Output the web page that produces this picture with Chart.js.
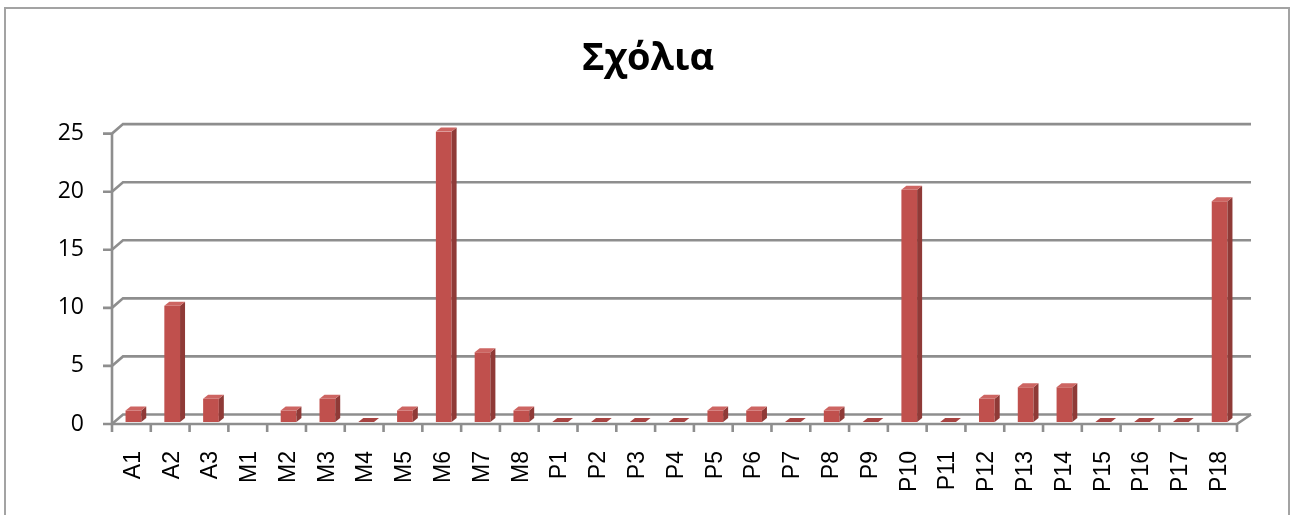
<!DOCTYPE html>
<html>
<head>
<meta charset="utf-8">
<script src="https://cdn.jsdelivr.net/npm/chart.js@4/dist/chart.umd.min.js"></script>
<style>
  html, body { margin: 0; padding: 0; background: #ffffff; }
  canvas { display: block; }
</style>
</head>
<body>
<canvas id="chart" width="1296" height="515"></canvas>
<script>
// Categories and comment counts
const categories = ['A1','A2','A3','M1','M2','M3','M4','M5','M6','M7','M8',
  'P1','P2','P3','P4','P5','P6','P7','P8','P9','P10','P11','P12','P13','P14',
  'P15','P16','P17','P18'];
const comments = [1, 10, 2, null, 1, 2, 0, 1, 25, 6, 1,
  0, 0, 0, 0, 1, 1, 0, 1, 0, 20, 0, 2, 3, 3,
  0, 0, 0, 19];
const yTickValues = [0, 5, 10, 15, 20, 25];
const titleText = 'Σχόλια';

// Pseudo-3D styling
const GRID = '#8e8e8e';
const FRONT = '#c0504d';
const SIDE = '#8f3a37';
const TOP = '#cd6562';
const BAR_DEPTH = { dx: 5, dy: 4 };
const WALL = { dxLeft: 9, dxRight: 12, dy: -7.5 };
const FRONT_AXIS = { dx: -2, dy: 2 };

const frame3d = {
  id: 'frame3d',
  beforeDraw(chart) {
    const ctx = chart.ctx;
    ctx.save();
    ctx.fillStyle = '#ffffff';
    ctx.fillRect(0, 0, chart.width, chart.height);
    // outer chart border
    ctx.strokeStyle = '#a3a3a3';
    ctx.lineWidth = 2;
    ctx.strokeRect(5, 8, 1284, 520);
    ctx.restore();
  },
  beforeDatasetsDraw(chart) {
    const ctx = chart.ctx;
    const y = chart.scales.y;
    const L = chart.chartArea.left, R = chart.chartArea.right;
    ctx.save();
    ctx.strokeStyle = GRID;
    ctx.lineWidth = 2.6;
    ctx.lineCap = 'butt';
    const fxL = L + FRONT_AXIS.dx, fxR = R + FRONT_AXIS.dx;
    const bxL = L + WALL.dxLeft, bxR = R + WALL.dxRight;
    // back wall gridlines and their diagonal links to the front axis
    yTickValues.forEach(v => {
      const py = y.getPixelForValue(v);
      const fy = py + FRONT_AXIS.dy, by = py + WALL.dy;
      ctx.beginPath();
      ctx.moveTo(fxL - 9, fy);
      ctx.lineTo(fxL, fy);
      ctx.lineTo(bxL, by);
      ctx.lineTo(bxR, by);
      ctx.stroke();
    });
    // front vertical value axis
    const f0 = y.getPixelForValue(0) + FRONT_AXIS.dy;
    const fTop = y.getPixelForValue(25) + FRONT_AXIS.dy;
    ctx.beginPath();
    ctx.moveTo(fxL, fTop);
    ctx.lineTo(fxL, f0 + 8);
    ctx.stroke();
    // front category axis with boundary ticks
    ctx.beginPath();
    ctx.moveTo(fxL, f0);
    ctx.lineTo(fxR, f0);
    ctx.lineTo(bxR, y.getPixelForValue(0) + WALL.dy);
    ctx.stroke();
    const step = (R - L) / categories.length;
    for (let i = 1; i <= categories.length; i++) {
      const tx = fxL + i * step;
      ctx.beginPath();
      ctx.moveTo(tx, f0);
      ctx.lineTo(tx, f0 + 8);
      ctx.stroke();
    }
    ctx.restore();
  },
  afterDatasetsDraw(chart) {
    const ctx = chart.ctx;
    const meta = chart.getDatasetMeta(0);
    const { dx, dy } = BAR_DEPTH;
    ctx.save();
    meta.data.forEach((bar, i) => {
      if (comments[i] === null || comments[i] === undefined) return;
      const p = bar.getProps(['x', 'y', 'base', 'width'], true);
      const x0 = p.x - p.width / 2, x1 = p.x + p.width / 2;
      const top = Math.min(p.y, p.base), bot = Math.max(p.y, p.base);
      // right side face
      if (bot - top > 0.5) {
        ctx.fillStyle = SIDE;
        ctx.beginPath();
        ctx.moveTo(x1, top);
        ctx.lineTo(x1 + dx, top - dy);
        ctx.lineTo(x1 + dx, bot - dy);
        ctx.lineTo(x1, bot);
        ctx.closePath();
        ctx.fill();
      }
      // top face
      ctx.fillStyle = (bot - top > 0.5) ? TOP : '#a84442';
      ctx.beginPath();
      ctx.moveTo(x0, top);
      ctx.lineTo(x1, top);
      ctx.lineTo(x1 + dx, top - dy);
      ctx.lineTo(x0 + dx, top - dy);
      ctx.closePath();
      ctx.fill();
    });
    ctx.restore();
  }
};

const TITLE_FONT = "'Open Sans', 'DejaVu Sans', sans-serif";
const LABEL_FONT = "'Liberation Sans', Arial, sans-serif";

new Chart(document.getElementById('chart'), {
  type: 'bar',
  data: {
    labels: categories,
    datasets: [{
      label: titleText,
      data: comments,
      backgroundColor: FRONT,
      borderWidth: 0,
      categoryPercentage: 1.0,
      barPercentage: 0.405
    }]
  },
  options: {
    responsive: false,
    devicePixelRatio: 1,
    animation: false,
    layout: { padding: { top: 8, left: 57, right: 57, bottom: 0 } },
    plugins: {
      legend: { display: false },
      tooltip: { enabled: false },
      title: {
        display: true,
        text: titleText,
        color: '#000000',
        font: { family: TITLE_FONT, size: 38, weight: 'bold' },
        padding: { top: 28, bottom: 50 }
      }
    },
    scales: {
      x: {
        grid: { display: false, drawTicks: false },
        border: { display: false },
        ticks: {
          autoSkip: false,
          minRotation: 90,
          maxRotation: 90,
          padding: 29,
          color: '#000000',
          font: { family: LABEL_FONT, size: 23 }
        },
        afterFit(scale) { scale.height = 93; }
      },
      y: {
        min: 0,
        max: 25,
        grid: { display: false, drawTicks: false },
        border: { display: false },
        ticks: {
          stepSize: 5,
          padding: 30,
          labelOffset: 2,
          color: '#000000',
          font: { family: TITLE_FONT, size: 23 }
        },
        afterFit(scale) { scale.width = 57; }
      }
    }
  },
  plugins: [frame3d]
});
</script>
</body>
</html>
